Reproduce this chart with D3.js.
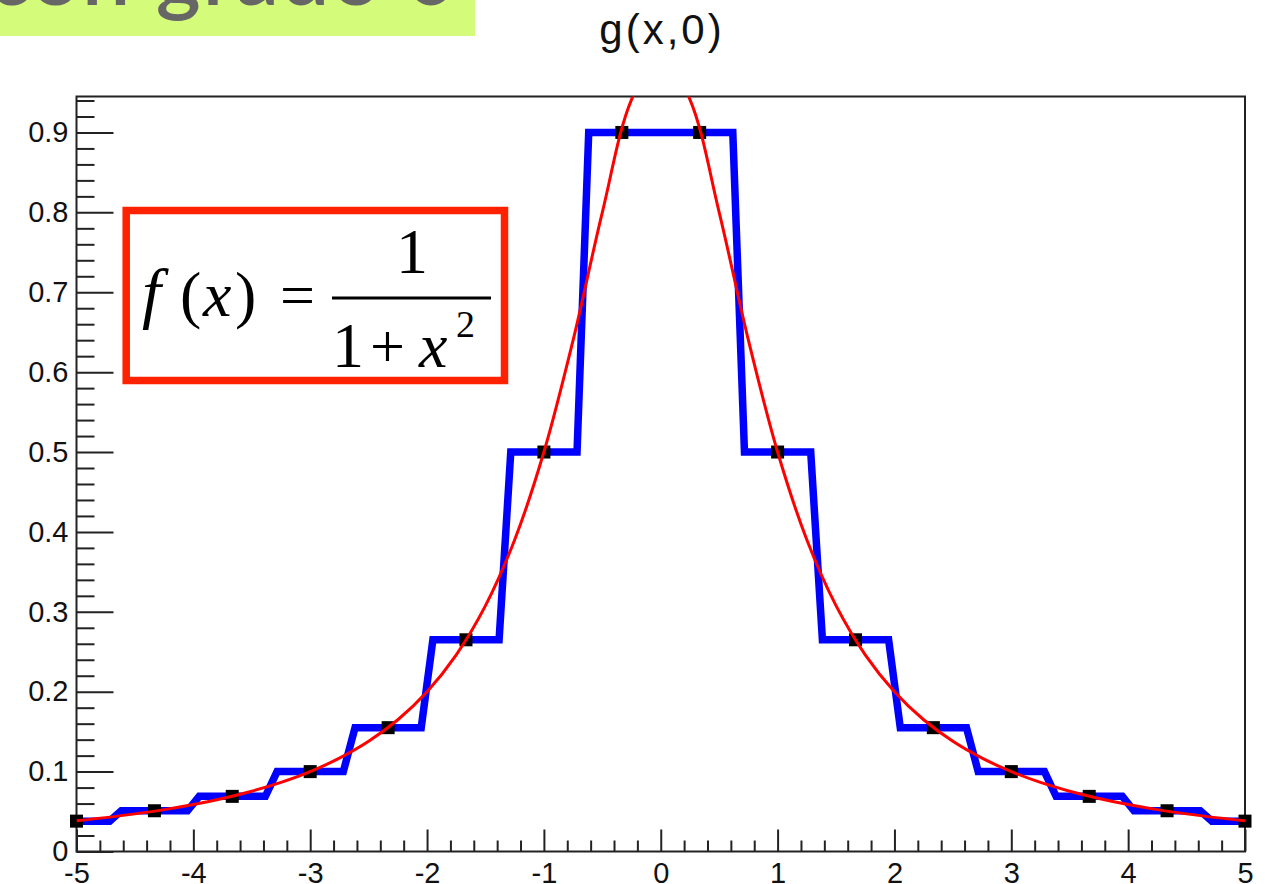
<!DOCTYPE html>
<html>
<head>
<meta charset="utf-8">
<script src="https://cdn.jsdelivr.net/npm/d3@7"></script>
<style>
  html, body { margin: 0; padding: 0; background: #fff; }
  svg { display: block; }
</style>
</head>
<body>
<svg id="chart" width="1265" height="884"></svg>
<script>
// Interpolation nodes of f(x) = 1/(1+x^2) and the degree-0 (nearest node) values
const nodeX = [-5, -4.333, -3.667, -3, -2.333, -1.667, -1, -0.333, 0.333, 1, 1.667, 2.333, 3, 3.667, 4.333, 5];
const nodeY = [0.038, 0.051, 0.069, 0.1, 0.155, 0.265, 0.5, 0.9, 0.9, 0.5, 0.265, 0.155, 0.1, 0.069, 0.051, 0.038];

// Sampled exact function f(x)
const curveX = [-5, -4.75, -4.5, -4.25, -4, -3.75, -3.5, -3.25, -3, -2.75, -2.5, -2.25, -2, -1.75, -1.5, -1.25, -1, -0.75, -0.5, -0.25, 0,
                0.25, 0.5, 0.75, 1, 1.25, 1.5, 1.75, 2, 2.25, 2.5, 2.75, 3, 3.25, 3.5, 3.75, 4, 4.25, 4.5, 4.75, 5];
const curveY = [0.0385, 0.0424, 0.0471, 0.0524, 0.0588, 0.0664, 0.0755, 0.0865, 0.1, 0.1168, 0.1379, 0.1649, 0.2, 0.2462, 0.3077, 0.3902, 0.5, 0.64, 0.8, 0.9412, 1.0,
                0.9412, 0.8, 0.64, 0.5, 0.3902, 0.3077, 0.2462, 0.2, 0.1649, 0.1379, 0.1168, 0.1, 0.0865, 0.0755, 0.0664, 0.0588, 0.0524, 0.0471, 0.0424, 0.0385];

// Axis ticks
const xTickValues = [-5, -4, -3, -2, -1, 0, 1, 2, 3, 4, 5];
const xTickLabels = ["-5", "-4", "-3", "-2", "-1", "0", "1", "2", "3", "4", "5"];
const yTickValues = [0, 0.1, 0.2, 0.3, 0.4, 0.5, 0.6, 0.7, 0.8, 0.9];
const yTickLabels = ["0", "0.1", "0.2", "0.3", "0.4", "0.5", "0.6", "0.7", "0.8", "0.9"];

const titleText = "g(x,0)";
const bannerText = "con grado 0";

const svg = d3.select("#chart");
const W = 1265, H = 884;
const frame = { left: 76.5, right: 1245, top: 96.5, bottom: 851.5 };

svg.append("rect").attr("width", W).attr("height", H).attr("fill", "#fff");

// Banner strip at the top-left
svg.append("rect")
  .attr("x", 0).attr("y", 0).attr("width", 475).attr("height", 36)
  .attr("fill", "#d5fb7b");
svg.append("text")
  .attr("x", 458).attr("y", 5)
  .attr("text-anchor", "end")
  .attr("dominant-baseline", "alphabetic")
  .attr("font-family", "Lato, 'Open Sans', sans-serif")
  .attr("font-weight", 600)
  .attr("font-size", 86)
  .attr("letter-spacing", 2)
  .attr("fill", "#666")
  .text(bannerText);

const x = d3.scaleLinear().domain([-5, 5]).range([frame.left, frame.right]);
const y = d3.scaleLinear().domain([0, 0.945]).range([frame.bottom, frame.top]);

// Title
svg.append("text")
  .attr("x", 662).attr("y", 44)
  .attr("text-anchor", "middle")
  .attr("font-family", "'Liberation Sans', Arial, sans-serif")
  .attr("font-size", 42)
  .attr("letter-spacing", 3)
  .attr("fill", "#111")
  .text(titleText);

// Axes with inward ticks
const tickFont = "'Liberation Sans', Arial, sans-serif";
const xMinor = d3.range(-5, 5.0001, 0.2).filter(v => Math.abs(v - Math.round(v)) > 1e-6);
const yMinor = d3.range(0, 0.945, 0.02).filter(v => Math.abs(v * 10 - Math.round(v * 10)) > 1e-6);

const gx = svg.append("g").attr("transform", `translate(0,${frame.bottom})`)
  .call(d3.axisBottom(x).tickValues(xTickValues)
    .tickFormat((d, i) => xTickLabels[i]).tickSize(-22).tickPadding(11));
const gxm = svg.append("g").attr("transform", `translate(0,${frame.bottom})`)
  .call(d3.axisBottom(x).tickValues(xMinor).tickFormat("").tickSize(-11));
const gy = svg.append("g").attr("transform", `translate(${frame.left},0)`)
  .call(d3.axisLeft(y).tickValues(yTickValues)
    .tickFormat((d, i) => yTickLabels[i]).tickSize(-37).tickPadding(8));
const gym = svg.append("g").attr("transform", `translate(${frame.left},0)`)
  .call(d3.axisLeft(y).tickValues(yMinor).tickFormat("").tickSize(-18));

[gx, gxm, gy, gym].forEach(g => {
  g.select(".domain").remove();
  g.selectAll(".tick line").attr("stroke", "#222").attr("stroke-width", 2);
  g.selectAll(".tick text")
    .attr("font-family", tickFont).attr("font-size", 29).attr("fill", "#111");
});

// Frame
svg.append("rect")
  .attr("x", frame.left).attr("y", frame.top)
  .attr("width", frame.right - frame.left).attr("height", frame.bottom - frame.top)
  .attr("fill", "none").attr("stroke", "#222").attr("stroke-width", 2);

svg.append("clipPath").attr("id", "plotClip")
  .append("rect")
  .attr("x", frame.left).attr("y", frame.top)
  .attr("width", frame.right - frame.left).attr("height", frame.bottom - frame.top);

// Piecewise-constant interpolant: each node holds its value up to the midpoint,
// with a short ramp (sampling width) across each midpoint
const ramp = 0.05;
const stepPts = [];
nodeX.forEach((xv, i) => {
  const start = i === 0 ? xv : (nodeX[i - 1] + xv) / 2 + ramp;
  const end = i === nodeX.length - 1 ? xv : (xv + nodeX[i + 1]) / 2 - ramp;
  stepPts.push([start, nodeY[i]], [end, nodeY[i]]);
});

svg.append("path")
  .datum(stepPts)
  .attr("fill", "none")
  .attr("stroke", "#0000ff")
  .attr("stroke-width", 7.5)
  .attr("stroke-linejoin", "miter")
  .attr("d", d3.line().x(d => x(d[0])).y(d => y(d[1])));

// Node markers
svg.append("g").selectAll("rect")
  .data(nodeX.map((xv, i) => [xv, nodeY[i]]))
  .join("rect")
  .attr("x", d => x(d[0]) - 6.5)
  .attr("y", d => y(d[1]) - 6.5)
  .attr("width", 13).attr("height", 13)
  .attr("fill", "#000");

// Exact function
svg.append("path")
  .datum(curveX.map((xv, i) => [xv, curveY[i]]))
  .attr("clip-path", "url(#plotClip)")
  .attr("fill", "none")
  .attr("stroke", "#ff0000")
  .attr("stroke-width", 3)
  .attr("d", d3.line().x(d => x(d[0])).y(d => y(d[1])).curve(d3.curveCatmullRom));

// Formula box
const fg = svg.append("g");
fg.append("rect")
  .attr("x", 126.2).attr("y", 210.5).attr("width", 378.3).attr("height", 170)
  .attr("fill", "#fff").attr("stroke", "#ff2200").attr("stroke-width", 7.5);

const serif = "'Liberation Serif', 'Times New Roman', serif";
const ftext = (xp, yp, str, size, italic) => fg.append("text")
  .attr("x", xp).attr("y", yp)
  .attr("font-family", serif).attr("font-size", size)
  .attr("font-style", italic ? "italic" : "normal")
  .attr("fill", "#000").text(str);

ftext(142, 316, "f", 68, true);
ftext(180, 316, "(", 64, false);
ftext(203, 316, "x", 64, true);
ftext(235, 316, ")", 64, false);
ftext(280, 316, "=", 62, false);
fg.append("line").attr("x1", 332).attr("x2", 491).attr("y1", 298).attr("y2", 298)
  .attr("stroke", "#000").attr("stroke-width", 3);
ftext(396, 273, "1", 64, false);
ftext(332, 367, "1", 64, false);
ftext(370, 367, "+", 62, false);
ftext(419, 367, "x", 64, true);
ftext(456, 337, "2", 38, false);
</script>
</body>
</html>
